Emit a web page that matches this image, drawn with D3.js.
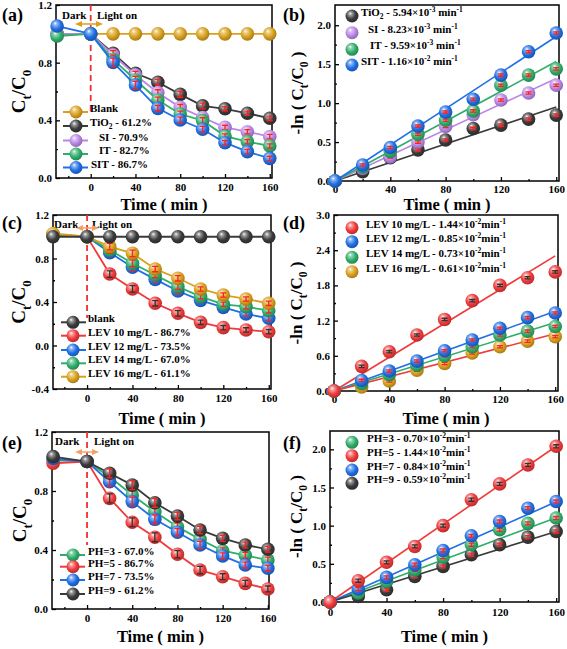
<!DOCTYPE html>
<html><head><meta charset="utf-8">
<script src="https://cdn.jsdelivr.net/npm/d3@7"></script>
<style>body{margin:0;background:#fff}svg{display:block}</style>
</head><body><svg id="c" width="567" height="649"></svg>
<script>
// ---------------- DATA ----------------
const timeDecay = [-30, 0, 20, 40, 60, 80, 100, 120, 140, 160];
const timeKin = [0, 20, 40, 60, 80, 100, 120, 140, 160];
const xTicks = [0, 40, 80, 120, 160];

// (a) Ct/C0 for catalysts
const labelsA = ["Blank", "TiO_{2} - 61.2%", "SI - 70.9%", "IT - 82.7%", "SIT - 86.7%"];
const blankA = [null, 1.0, 1.0, 1.0, 1.0, 1.0, 1.0, 1.0, 1.0, 1.0];
const tio2A = [1.0, 1.0, 0.865, 0.726, 0.664, 0.58, 0.50, 0.48, 0.449, 0.414];
const siA = [1.0, 1.0, 0.853, 0.714, 0.592, 0.49, 0.42, 0.351, 0.321, 0.287];
const itA = [0.985, 1.0, 0.823, 0.68, 0.541, 0.444, 0.398, 0.291, 0.252, 0.222];
const sitA = [1.054, 1.0, 0.802, 0.645, 0.483, 0.402, 0.338, 0.245, 0.183, 0.136];
const errA = [0, 0, 0.03, 0.025, 0.02, 0.02, 0.02, 0.015, 0.015, 0.015];

// (b) -ln(Ct/C0)
const labelsB = ["TiO_{2} - 5.94×10^{-3} min^{-1}", "SI - 8.23×10^{-3} min^{-1}", "IT - 9.59×10^{-3} min^{-1}", "SIT - 1.16×10^{-2} min^{-1}"];
const tio2B = [0, 0.12, 0.30, 0.40, 0.526, 0.675, 0.718, 0.795, 0.846];
const siB = [0, 0.16, 0.31, 0.50, 0.70, 0.85, 1.04, 1.13, 1.23];
const itB = [0, 0.18, 0.38, 0.60, 0.78, 0.90, 1.23, 1.36, 1.44];
const sitB = [0, 0.205, 0.43, 0.705, 0.885, 1.05, 1.36, 1.66, 1.90];
const kB = [5.94e-3, 8.23e-3, 9.59e-3, 1.16e-2];
const errB = [0, 0.03, 0.03, 0.03, 0.03, 0.03, 0.03, 0.03, 0.03];

// (c) LEV concentration
const labelsC = ["blank", "LEV 10 mg/L - 86.7%", "LEV 12 mg/L - 73.5%", "LEV 14 mg/L - 67.0%", "LEV 16 mg/L - 61.1%"];
const blankC = [1.0, 1.0, 1.0, 1.0, 1.0, 1.0, 1.0, 1.0, 1.0, 1.0];
const lev10C = [1.02, 1.0, 0.657, 0.52, 0.388, 0.296, 0.213, 0.164, 0.143, 0.127];
const lev12C = [1.02, 1.0, 0.854, 0.719, 0.608, 0.501, 0.415, 0.351, 0.29, 0.25];
const lev14C = [1.02, 1.0, 0.878, 0.756, 0.648, 0.541, 0.449, 0.379, 0.357, 0.32];
const lev16C = [1.03, 1.0, 0.909, 0.847, 0.703, 0.618, 0.52, 0.464, 0.428, 0.388];
const errC = [0, 0, 0.03, 0.03, 0.025, 0.025, 0.02, 0.02, 0.02, 0.02];

// (d) -ln(Ct/C0) LEV
const labelsD = ["LEV 10 mg/L - 1.44×10^{-2}min^{-1}", "LEV 12 mg/L - 0.85×10^{-2}min^{-1}", "LEV 14 mg/L - 0.73×10^{-2}min^{-1}", "LEV 16 mg/L - 0.61×10^{-2}min^{-1}"];
const lev10D = [0, 0.42, 0.67, 0.954, 1.22, 1.54, 1.80, 1.93, 2.03];
const lev12D = [0, 0.18, 0.34, 0.51, 0.686, 0.87, 1.07, 1.25, 1.33];
const lev14D = [0, 0.13, 0.28, 0.44, 0.60, 0.754, 0.954, 1.02, 1.10];
const lev16D = [0, 0.07, 0.17, 0.354, 0.47, 0.65, 0.754, 0.85, 0.926];
const kD = [1.44e-2, 0.85e-2, 0.73e-2, 0.61e-2];
const errD = [0, 0.04, 0.04, 0.04, 0.04, 0.04, 0.04, 0.04, 0.04];

// (e) pH
const labelsE = ["PH=3 - 67.0%", "PH=5 - 86.7%", "PH=7 - 73.5%", "PH=9 - 61.2%"];
const ph3E = [1.01, 1.0, 0.897, 0.773, 0.66, 0.558, 0.472, 0.395, 0.364, 0.332];
const ph5E = [0.988, 1.0, 0.75, 0.588, 0.486, 0.371, 0.264, 0.219, 0.174, 0.136];
const ph7E = [1.02, 1.0, 0.863, 0.728, 0.608, 0.52, 0.434, 0.36, 0.298, 0.276];
const ph9E = [1.033, 1.0, 0.92, 0.84, 0.72, 0.63, 0.536, 0.479, 0.434, 0.405];
const errE = [0, 0, 0.03, 0.03, 0.03, 0.025, 0.025, 0.02, 0.02, 0.02];

// (f) -ln(Ct/C0) pH
const labelsF = ["PH=3 - 0.70×10^{-2}min^{-1}", "PH=5 - 1.44×10^{-2}min^{-1}", "PH=7 - 0.84×10^{-2}min^{-1}", "PH=9 - 0.59×10^{-2}min^{-1}"];
const ph3F = [0, 0.118, 0.27, 0.42, 0.588, 0.75, 0.946, 1.03, 1.10];
const ph5F = [0, 0.279, 0.52, 0.728, 1.0, 1.34, 1.547, 1.795, 2.04];
const ph7F = [0, 0.17, 0.322, 0.488, 0.675, 0.867, 1.054, 1.229, 1.316];
const ph9F = [0, 0.074, 0.16, 0.335, 0.466, 0.619, 0.75, 0.85, 0.924];
const kF = [0.0069, 0.01275, 0.0082, 0.00578];
const errF = [0, 0.04, 0.04, 0.04, 0.04, 0.04, 0.04, 0.04, 0.04];

// ---------------- STYLE ----------------
const FONT = '"Liberation Serif","Times New Roman",serif';
const COLORS = {gold: "#d9a01c", black: "#3a3a3a", purple: "#b987e6", green: "#2fae6b", blue: "#1f6fe5", red: "#f03a3a"};
const R = 6.8;
const svg = d3.select("#c");
const defs = svg.append("defs");
Object.entries(COLORS).forEach(([k, c]) => {
  const g = defs.append("radialGradient").attr("id", "g-" + k)
    .attr("cx", "0.42").attr("cy", "0.4").attr("r", "0.62").attr("fx", "0.36").attr("fy", "0.3");
  g.append("stop").attr("offset", "0").attr("stop-color", "#ffffff");
  g.append("stop").attr("offset", "0.2").attr("stop-color", d3.interpolateRgb(c, "#fff")(0.5));
  g.append("stop").attr("offset", "0.62").attr("stop-color", c);
  g.append("stop").attr("offset", "1").attr("stop-color", d3.color(c).darker(0.8).formatHex());
});

function rich(sel, str, fs) {
  const parts = str.split(/(_\{[^}]*\}|\^\{[^}]*\})/).filter(s => s.length);
  let shift = 0;
  parts.forEach(p => {
    let t = p, target = 0, size = fs;
    if (p.startsWith("_{")) { t = p.slice(2, -1); target = fs * 0.3; size = fs * 0.68; }
    else if (p.startsWith("^{")) { t = p.slice(2, -1); target = -fs * 0.38; size = fs * 0.68; }
    sel.append("tspan").attr("dy", target - shift).attr("font-size", size).text(t);
    shift = target;
  });
}
function ball(g, cx, cy, key, r) {
  g.append("circle").attr("cx", cx).attr("cy", cy).attr("r", r).attr("fill", `url(#g-${key})`);
}
function errbar(g, cx, cy0, cy1, col) {
  g.append("path").attr("d", `M${cx},${cy0}V${cy1}M${cx - 3},${cy0}H${cx + 3}M${cx - 3},${cy1}H${cx + 3}`)
    .attr("stroke", col).attr("stroke-width", 1.3).attr("fill", "none");
}

function frameAxes(P) {
  const x = d3.scaleLinear().domain(P.xd).range(P.xr);
  const y = d3.scaleLinear().domain(P.yd).range(P.yr);
  const g = svg.append("g");
  g.append("rect").attr("x", P.xr[0]).attr("y", P.yr[1]).attr("width", P.xr[1] - P.xr[0])
    .attr("height", P.yr[0] - P.yr[1]).attr("fill", "none").attr("stroke", "#000").attr("stroke-width", 1.5);
  const style = a => { a.select(".domain").remove(); a.attr("font-family", FONT).attr("font-size", 11).attr("font-weight", "bold");
    a.selectAll("line").attr("stroke-width", 1.3); a.selectAll("text").attr("fill", "#000"); };
  const xa = g.append("g").attr("transform", `translate(0,${P.yr[0]})`)
    .call(d3.axisBottom(x).tickValues(xTicks).tickSize(-4).tickSizeOuter(0).tickPadding(P.xpad).tickFormat(d3.format("d")));
  style(xa);
  const xm = g.append("g").attr("transform", `translate(0,${P.yr[0]})`)
    .call(d3.axisBottom(x).tickValues(P.xm).tickSize(-2).tickSizeOuter(0).tickFormat(""));
  style(xm);
  const ya = g.append("g").attr("transform", `translate(${P.xr[0]},0)`)
    .call(d3.axisLeft(y).tickValues(P.yt).tickSize(-4).tickSizeOuter(0).tickPadding(4).tickFormat(v => v.toFixed(1)));
  style(ya);
  const ym = g.append("g").attr("transform", `translate(${P.xr[0]},0)`)
    .call(d3.axisLeft(y).tickValues(P.ym).tickSize(-2).tickSizeOuter(0).tickFormat(""));
  style(ym);
  g.append("text").attr("x", (P.xr[0] + P.xr[1]) / 2).attr("y", P.xTitleY).attr("text-anchor", "middle")
    .attr("font-family", FONT).attr("font-weight", "bold").attr("font-size", 16.5).text("Time ( min )");
  const yt = g.append("text").attr("transform", `translate(${P.yTitleX},${(P.yr[0] + P.yr[1]) / 2}) rotate(-90)`)
    .attr("text-anchor", "middle").attr("font-family", FONT).attr("font-weight", "bold").attr("font-size", P.yTitleFs);
  rich(yt, P.yTitle, P.yTitleFs);
  g.append("text").attr("x", P.letter[0]).attr("y", P.letter[1]).attr("font-family", FONT)
    .attr("font-weight", "bold").attr("font-size", 18).text(P.letterText);
  return {x, y, g};
}

function drawDecay(P) {
  const {x, y, g} = frameAxes(P);
  g.append("line").attr("x1", x(0)).attr("x2", x(0)).attr("y1", P.dash[0]).attr("y2", P.dash[1])
    .attr("stroke", "#f03030").attr("stroke-width", 1.8).attr("stroke-dasharray", "6,4");
  const A = P.ann;
  [["Dark", A.darkX], ["Light on", A.lightX]].forEach(([t, xx]) =>
    g.append("text").attr("x", xx).attr("y", A.textY).attr("font-family", FONT).attr("font-weight", "bold")
      .attr("font-size", 11).text(t));
  const [a0, a1] = A.ax, ay = A.ay;
  g.append("line").attr("x1", a0 + 4).attr("x2", a1 - 4).attr("y1", ay).attr("y2", ay).attr("stroke", A.color).attr("stroke-width", 1.5);
  g.append("path").attr("d", `M${a0},${ay}L${a0 + 7},${ay - 3}L${a0 + 7},${ay + 3}Z M${a1},${ay}L${a1 - 7},${ay - 3}L${a1 - 7},${ay + 3}Z`).attr("fill", A.color);
  const line = d3.line().defined(d => d.v != null).x(d => x(d.t)).y(d => y(d.v));
  P.order.forEach(i => {
    const S = P.series[i];
    const pts = timeDecay.map((t, j) => ({t, v: S.vals[j], e: P.err[j]}));
    g.append("path").datum(pts).attr("d", line).attr("fill", "none").attr("stroke", COLORS[S.c]).attr("stroke-width", 1.8);
    pts.filter(d => d.v != null).forEach(d => {
      ball(g, x(d.t), y(d.v), S.c, R);
      if (d.e > 0 && S.err !== false) errbar(g, x(d.t), y(d.v - d.e), y(d.v + d.e), S.c === "red" ? "#333" : "#ff2020");
    });
  });
  const L = P.legend;
  P.series.forEach((S, i) => {
    const ry = L.rows[i];
    g.append("line").attr("x1", L.lx[0]).attr("x2", L.lx[1]).attr("y1", ry).attr("y2", ry).attr("stroke", COLORS[S.c]).attr("stroke-width", 2);
    ball(g, L.mx, ry, S.c, 6.5);
    const t = g.append("text").attr("x", L.tx + (L.dx ? L.dx[i] : 0)).attr("y", ry).attr("dy", "0.35em")
      .attr("font-family", FONT).attr("font-weight", "bold").attr("font-size", 11);
    rich(t, P.labels[i], 11);
  });
}

function drawKin(P) {
  const {x, y, g} = frameAxes(P);
  P.series.forEach((S, i) => {
    g.append("line").attr("x1", x(0)).attr("y1", y(0)).attr("x2", x(160)).attr("y2", y(S.k * 160))
      .attr("stroke", COLORS[S.lc || S.c]).attr("stroke-width", 1.6);
  });
  P.order.forEach(i => {
    const S = P.series[i];
    timeKin.forEach((t, j) => {
      const v = S.vals[j];
      ball(g, x(t), y(v), S.c, R);
      const e = P.err[j];
      if (e > 0) errbar(g, x(t), y(v - e / 2), y(v + e / 2), S.c === "red" ? "#333" : "#ff2020");
    });
  });
  const L = P.legend;
  P.series.forEach((S, i) => {
    const ry = L.rows[i];
    ball(g, L.mx, ry, S.c, 6.5);
    const t = g.append("text").attr("x", L.tx + (L.dx ? L.dx[i] : 0)).attr("y", ry).attr("dy", "0.35em")
      .attr("font-family", FONT).attr("font-weight", "bold").attr("font-size", 11);
    rich(t, P.labels[i], 11);
  });
}

const CT = "C_{t}/C_{0}", LN = "-ln ( C_{t}/C_{0} )";

// (a)
drawDecay({
  xr: [56, 272], yr: [178, 5], xd: [-31, 162], yd: [0, 1.2], xm: [-20, 20, 60, 100, 140],
  yt: [0, 0.4, 0.8, 1.2], ym: [0.2, 0.6, 1.0], xpad: 5, xTitleY: 210, yTitleX: 25, yTitleFs: 19, yTitle: CT,
  letter: [2, 21], letterText: "(a)", dash: [5, 112],
  ann: {darkX: 62, lightX: 97, textY: 19, ay: 24, ax: [75, 103], color: "#d9a01c"},
  series: [{vals: blankA, c: "gold", err: false}, {vals: tio2A, c: "black"}, {vals: siA, c: "purple"}, {vals: itA, c: "green"}, {vals: sitA, c: "blue"}],
  order: [0, 1, 2, 3, 4], err: errA, labels: labelsA,
  legend: {rows: [112, 126, 140.5, 154, 167.5], lx: [63, 88], mx: 76, tx: 90, dx: [0, 0, 9, 9, 1]}
});
// (b)
drawKin({
  xr: [335, 559], yr: [181, 5], xd: [0, 162], yd: [0, 2.26], xm: [20, 60, 100, 140],
  yt: [0, 0.5, 1.0, 1.5, 2.0], ym: [0.25, 0.75, 1.25, 1.75], xpad: 4, xTitleY: 210, yTitleX: 303, yTitleFs: 17, yTitle: LN,
  letter: [283, 21], letterText: "(b)",
  series: [{vals: tio2B, c: "black", k: kB[0]}, {vals: siB, c: "purple", k: kB[1]}, {vals: itB, c: "green", k: kB[2]}, {vals: sitB, c: "blue", k: kB[3]}],
  order: [0, 1, 2, 3], err: errB, labels: labelsB,
  legend: {rows: [16, 32.7, 49.3, 65], mx: 352, tx: 361, dx: [0, 7, 9, 0]}
});
// (c)
drawDecay({
  xr: [53, 271], yr: [389, 215], xd: [-30, 162], yd: [-0.4, 1.2], xm: [-20, 20, 60, 100, 140],
  yt: [-0.4, 0, 0.4, 0.8, 1.2], ym: [-0.2, 0.2, 0.6, 1.0], xpad: 5, xTitleY: 424, yTitleX: 25, yTitleFs: 19, yTitle: CT,
  letter: [2, 229], letterText: "(c)", dash: [215, 318],
  ann: {darkX: 54, lightX: 92, textY: 228, ay: 228, ax: [76, 99], color: "#f5a066"},
  series: [{vals: blankC, c: "black", err: false}, {vals: lev10C, c: "red"}, {vals: lev12C, c: "blue"}, {vals: lev14C, c: "green"}, {vals: lev16C, c: "gold"}],
  order: [1, 2, 3, 4, 0], err: errC, labels: labelsC,
  legend: {rows: [322.3, 335.7, 350, 363.3, 376.7], lx: [61, 86], mx: 73, tx: 88}
});
// (d)
drawKin({
  xr: [334, 558], yr: [391, 215], xd: [0, 162], yd: [0, 3.0], xm: [20, 60, 100, 140],
  yt: [0, 0.6, 1.2, 1.8, 2.4, 3.0], ym: [0.3, 0.9, 1.5, 2.1, 2.7], xpad: 4, xTitleY: 424, yTitleX: 302, yTitleFs: 17, yTitle: LN,
  letter: [283, 229], letterText: "(d)",
  series: [{vals: lev10D, c: "red", k: kD[0]}, {vals: lev12D, c: "blue", k: kD[1]}, {vals: lev14D, c: "green", k: kD[2]}, {vals: lev16D, c: "gold", k: kD[3], lc: "red"}],
  order: [3, 2, 1, 0], err: errD, labels: labelsD,
  legend: {rows: [227.7, 241.7, 257.3, 271.7], mx: 352, tx: 366}
});
// (e)
drawDecay({
  xr: [52, 269], yr: [609, 432], xd: [-31, 161], yd: [0, 1.2], xm: [-20, 20, 60, 100, 140],
  yt: [0, 0.4, 0.8, 1.2], ym: [0.2, 0.6, 1.0], xpad: 5, xTitleY: 642, yTitleX: 26, yTitleFs: 19, yTitle: CT,
  letter: [2, 449], letterText: "(e)", dash: [432, 545],
  ann: {darkX: 55, lightX: 94, textY: 445, ay: 452, ax: [75, 99], color: "#f5a066"},
  series: [{vals: ph3E, c: "green"}, {vals: ph5E, c: "red"}, {vals: ph7E, c: "blue"}, {vals: ph9E, c: "black"}],
  order: [0, 1, 2, 3], err: errE, labels: labelsE,
  legend: {rows: [555, 566.7, 580, 594], lx: [60, 85], mx: 73, tx: 88}
});
// (f)
drawKin({
  xr: [330, 559], yr: [602, 431], xd: [0, 162], yd: [0, 2.24], xm: [20, 60, 100, 140],
  yt: [0, 0.5, 1.0, 1.5, 2.0], ym: [0.25, 0.75, 1.25, 1.75], xpad: 6, xTitleY: 642, yTitleX: 302, yTitleFs: 17, yTitle: LN,
  letter: [283, 449], letterText: "(f)",
  series: [{vals: ph3F, c: "green", k: kF[0]}, {vals: ph5F, c: "red", k: kF[1]}, {vals: ph7F, c: "blue", k: kF[2]}, {vals: ph9F, c: "black", k: kF[3]}],
  order: [3, 0, 2, 1], err: errF, labels: labelsF,
  legend: {rows: [442.3, 455.7, 470, 483.3], mx: 352, tx: 367}
});
</script></body></html>
